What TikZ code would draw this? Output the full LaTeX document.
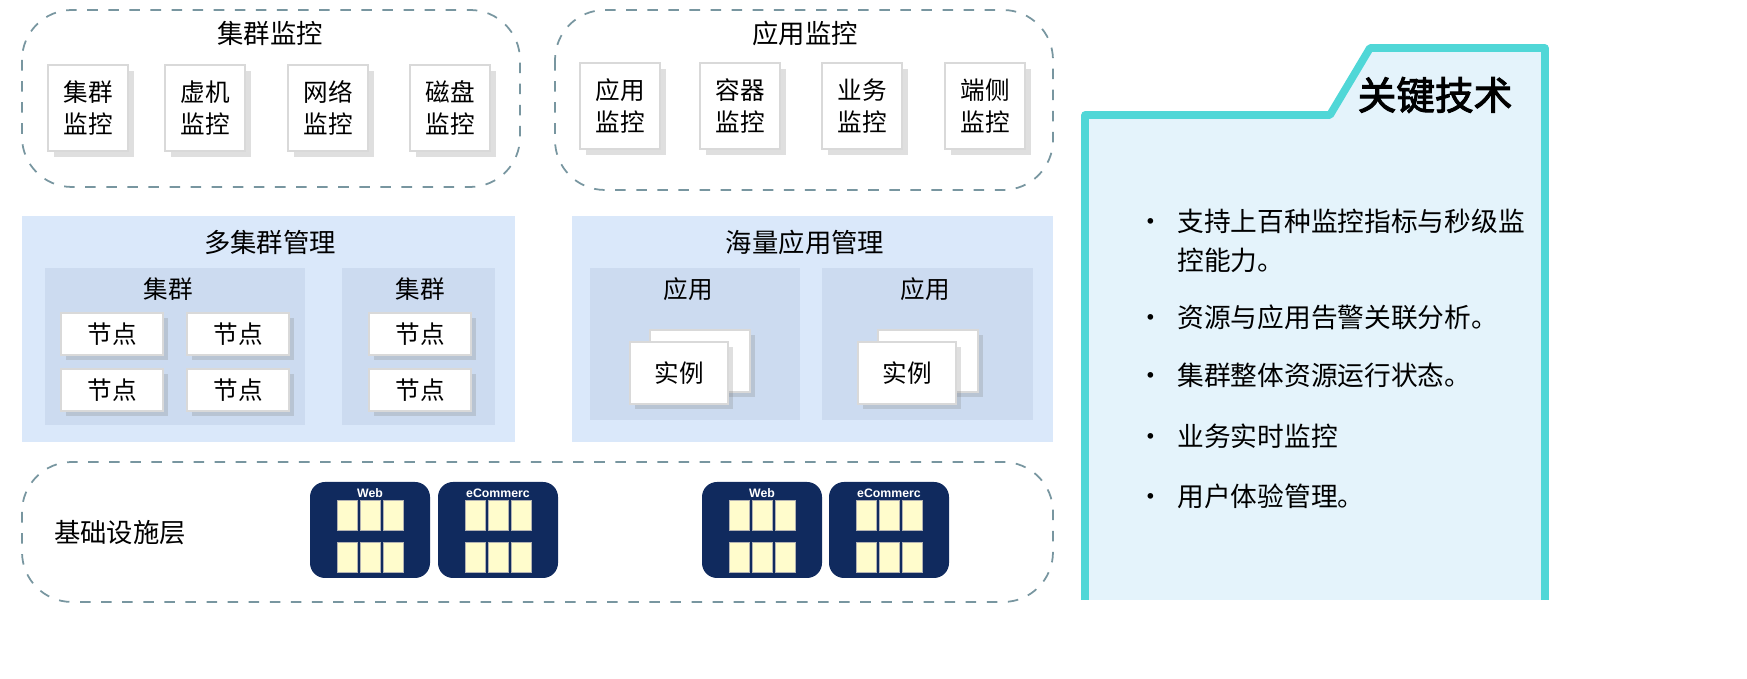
\documentclass[tikz,border=0pt]{standalone}
\usepackage{fontspec}
\setmainfont{Noto Sans CJK SC}[AutoFakeBold=2.5]
\setsansfont{Liberation Sans}
\usetikzlibrary{positioning, shadows}

\definecolor{panelblue}{RGB}{218,232,250}
\definecolor{innerblue}{RGB}{204,219,240}
\definecolor{dashgray}{RGB}{120,150,160}
\definecolor{navybox}{RGB}{16,42,94}
\definecolor{techline}{RGB}{80,215,215}
\definecolor{techfill}{RGB}{228,243,251}

\begin{document}
\begin{tikzpicture}[
x=0.1mm, y=-0.1mm,
font=\fontsize{7}{9}\selectfont,
group/.style={draw=dashgray, dashed, rounded corners=5mm, line width=0.5pt},
panel/.style={fill=panelblue, draw=none},
subpanel/.style={fill=innerblue, draw=none},
card/.style={rectangle, fill=white, draw=gray!30, drop shadow={opacity=0.25, shadow xshift=0.6mm, shadow yshift=-0.6mm}, minimum width=8mm, minimum height=8.6mm, align=center, inner sep=0pt},
slot/.style={rectangle, fill=white, draw=gray!30, drop shadow={opacity=0.25, shadow xshift=0.5mm, shadow yshift=-0.5mm}, minimum width=10.2mm, minimum height=4.2mm, inner sep=0pt},
title/.style={font=\fontsize{7.5}{9}\selectfont},
rack/.style={rectangle, rounded corners=1.5mm, fill=navybox, minimum width=12mm, minimum height=9.6mm, inner sep=0pt},
unit/.style={rectangle, fill=yellow!20!white, draw=gray!60, line width=0.2pt, inner sep=0pt},
item/.style={anchor=north west, align=left, font=\fontsize{7.6}{11}\selectfont, text width=36mm}
]
\useasboundingbox (0,0) rectangle (1747,679);

% cluster monitoring
\draw[group] (22,10) rectangle (520,187);
\node[title] (cmon) at (270,33) {集群监控};
\node[card] (c1) at (88,108) {集群\\监控};
\node[card] (c2) at (205,108) {虚机\\监控};
\node[card] (c3) at (328,108) {网络\\监控};
\node[card] (c4) at (450,108) {磁盘\\监控};

% application monitoring
\draw[group] (555,10) rectangle (1053,190);
\node[title] (amon) at (805,33) {应用监控};
\node[card] (a1) at (620,106) {应用\\监控};
\node[card] (a2) at (740,106) {容器\\监控};
\node[card] (a3) at (862,106) {业务\\监控};
\node[card] (a4) at (985,106) {端侧\\监控};

% multi-cluster management
\fill[panel] (22,216) rectangle (515,442);
\node[title] (mcm) at (270,242) {多集群管理};
\fill[subpanel] (45,268) rectangle (305,425);
\node (k1) at (168,289) {集群};
\node[slot] (n1) at (112,334) {节点};
\node[slot] (n2) at (238,334) {节点};
\node[slot] (n3) at (112,390) {节点};
\node[slot] (n4) at (238,390) {节点};
\fill[subpanel] (342,268) rectangle (495,425);
\node (k2) at (420,289) {集群};
\node[slot] (n5) at (420,334) {节点};
\node[slot] (n6) at (420,390) {节点};

% application management
\fill[panel] (572,216) rectangle (1053,442);
\node[title] (mam) at (805,242) {海量应用管理};
\fill[subpanel] (590,268) rectangle (800,420);
\node (p1) at (688,289) {应用};
\node[slot, minimum width=10mm, minimum height=6.2mm] (b1) at (700,361) {};
\node[slot, minimum width=9.8mm, minimum height=6.2mm] (i1) at (679,373) {实例};
\fill[subpanel] (822,268) rectangle (1033,420);
\node (p2) at (925,289) {应用};
\node[slot, minimum width=10mm, minimum height=6.2mm] (b2) at (928,361) {};
\node[slot, minimum width=9.8mm, minimum height=6.2mm] (i2) at (907,373) {实例};

% infrastructure
\draw[group] (22,462) rectangle (1053,602);
\node[title] (infra) at (120,533) {基础设施层};
\foreach \name/\cx/\lbl in {r1/370/Web, r2/498/eCommerc, r3/762/Web, r4/889/eCommerc}{
  \node[rack] (\name) at (\cx,530) {};
  \node[font=\sffamily\bfseries\fontsize{3.5}{4}\selectfont, text=white] at (\cx,493) {\lbl};
  \foreach \dy in {515,557}{
    \foreach \dx in {-23,0,23}{
      \node[unit, minimum width=2mm, minimum height=3mm] at (\cx+\dx,\dy) {};
    }
  }
}

% key technologies
\fill[techfill] (1085,115) -- (1330,115) -- (1370,48) -- (1545,48) -- (1545,600) -- (1085,600) -- cycle;
\draw[techline, line width=2.2pt, line join=round] (1085,600) -- (1085,115) -- (1330,115) -- (1370,48) -- (1545,48) -- (1545,600);
\node[font=\bfseries\fontsize{11}{13}\selectfont] (tech) at (1435,95) {关键技术};
\node[item] (t1) at (1125,197) {•\enspace 支持上百种监控指标与秒级监\\\phantom{•\enspace }控能力。};
\node[item] (t2) at (1125,292) {•\enspace 资源与应用告警关联分析。};
\node[item] (t3) at (1125,351) {•\enspace 集群整体资源运行状态。};
\node[item] (t4) at (1125,411) {•\enspace 业务实时监控};
\node[item] (t5) at (1125,471) {•\enspace 用户体验管理。};

\end{tikzpicture}
\end{document}
